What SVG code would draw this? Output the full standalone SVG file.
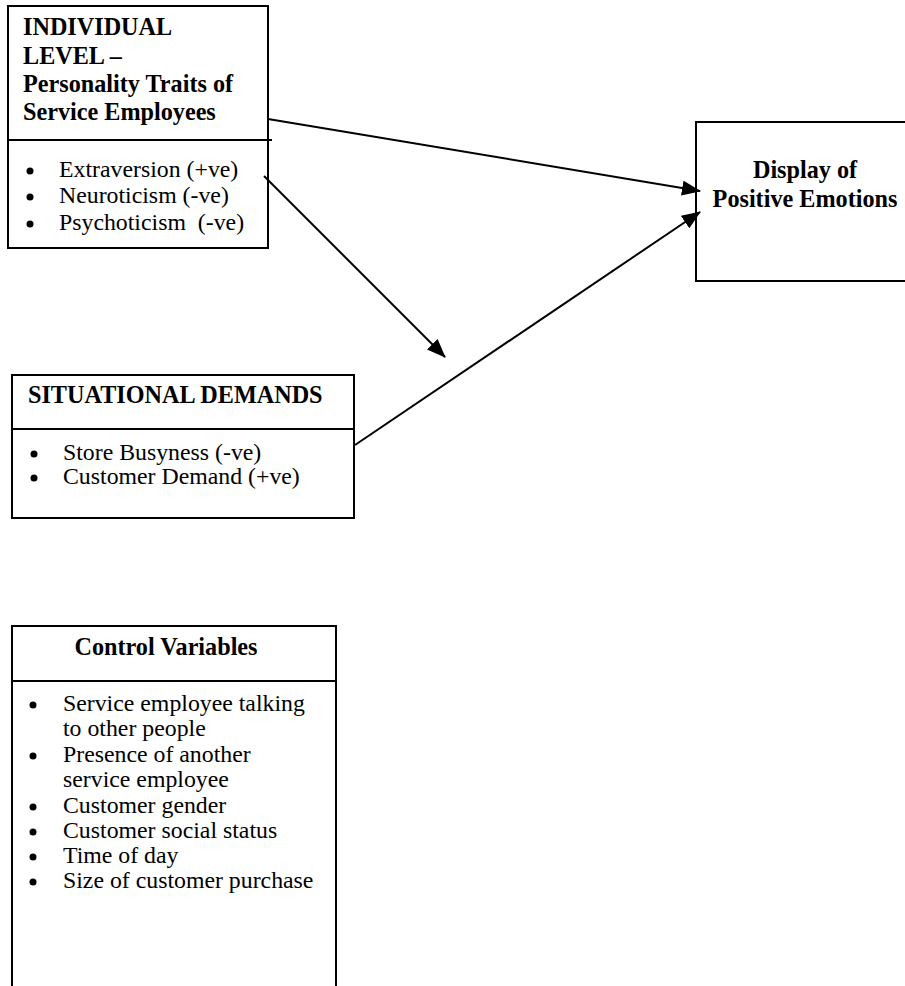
<svg xmlns="http://www.w3.org/2000/svg" width="905" height="986" viewBox="0 0 905 986">
<style>
.box{fill:#fff;stroke:#000;stroke-width:2}
.div{stroke:#000;stroke-width:2}
.b{font-family:"Liberation Serif","Times New Roman",serif;font-weight:bold;font-size:24.2px;fill:#000}
.r{font-family:"Liberation Serif","Times New Roman",serif;font-size:23.8px;fill:#000}
.dot{fill:#000}
.conn{stroke:#000;stroke-width:2;fill:none;marker-end:url(#ah)}
</style>
<defs>
<marker id="ah" markerWidth="19" markerHeight="15" refX="18" refY="7.5" orient="auto" markerUnits="userSpaceOnUse">
<path d="M0,0 L19,7.5 L0,15 Z" fill="#000"/>
</marker>
</defs>
<rect width="905" height="986" fill="#fff"/>
<g id="individual">
<rect class="box" x="8" y="6" width="260" height="242"/>
<line class="div" x1="8" y1="140" x2="272" y2="140"/>
<text class="b" x="23" y="35">INDIVIDUAL</text>
<text class="b" x="23" y="64">LEVEL –</text>
<text class="b" x="23" y="92">Personality Traits of</text>
<text class="b" x="23" y="120">Service Employees</text>
<circle class="dot" cx="30" cy="171" r="3.5"/>
<circle class="dot" cx="30" cy="197" r="3.5"/>
<circle class="dot" cx="30" cy="224" r="3.5"/>
<text class="r" x="59" y="177">Extraversion (+ve)</text>
<text class="r" x="59" y="203">Neuroticism (-ve)</text>
<text class="r" x="59" y="230" xml:space="preserve">Psychoticism  (-ve)</text>
</g>
<g id="display">
<rect class="box" x="696" y="122" width="230" height="159"/>
<text class="b" x="805" y="178" text-anchor="middle">Display of</text>
<text class="b" x="805" y="207" text-anchor="middle">Positive Emotions</text>
</g>
<g id="situational">
<rect class="box" x="12" y="375" width="342" height="143"/>
<line class="div" x1="12" y1="429" x2="354" y2="429"/>
<text class="b" x="28" y="403">SITUATIONAL DEMANDS</text>
<circle class="dot" cx="34" cy="454" r="3.5"/>
<circle class="dot" cx="34" cy="478" r="3.5"/>
<text class="r" x="63" y="460">Store Busyness (-ve)</text>
<text class="r" x="63" y="484">Customer Demand (+ve)</text>
</g>
<g id="control">
<rect class="box" x="12" y="626" width="324" height="380"/>
<line class="div" x1="12" y1="681" x2="336" y2="681"/>
<text class="b" x="166" y="655" text-anchor="middle">Control Variables</text>
<circle class="dot" cx="33" cy="705" r="3.5"/>
<circle class="dot" cx="33" cy="756" r="3.5"/>
<circle class="dot" cx="33" cy="807" r="3.5"/>
<circle class="dot" cx="33" cy="832" r="3.5"/>
<circle class="dot" cx="33" cy="857" r="3.5"/>
<circle class="dot" cx="33" cy="882" r="3.5"/>
<text class="r" x="63" y="711">Service employee talking</text>
<text class="r" x="63" y="736">to other people</text>
<text class="r" x="63" y="762">Presence of another</text>
<text class="r" x="63" y="787">service employee</text>
<text class="r" x="63" y="813">Customer gender</text>
<text class="r" x="63" y="838">Customer social status</text>
<text class="r" x="63" y="863">Time of day</text>
<text class="r" x="63" y="888">Size of customer purchase</text>
</g>
<g id="connectors">
<line class="conn" x1="268" y1="119" x2="700" y2="191"/>
<line class="conn" x1="264" y1="176" x2="445" y2="357"/>
<line class="conn" x1="355" y1="445" x2="700" y2="212"/>
</g>
</svg>
